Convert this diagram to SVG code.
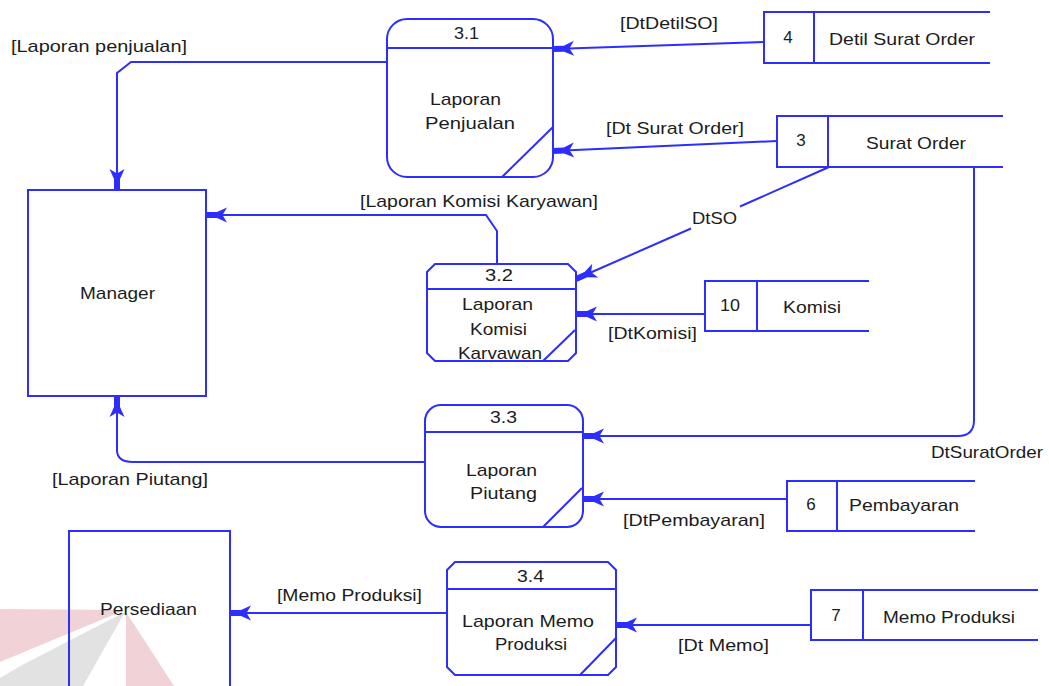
<svg xmlns="http://www.w3.org/2000/svg" width="1049" height="686" viewBox="0 0 1049 686">
  <defs>
    <style>
      .shape { fill: none; stroke: #2d2dff; stroke-width: 2; }
      .flow { fill: none; stroke: #2d2dff; stroke-width: 2; marker-end: url(#head); }
      text { font-family: "Liberation Sans", Arial, sans-serif; font-size: 17px; fill: #1c1c1c; }
      .mid { text-anchor: middle; }
    </style>
    <marker id="head" markerUnits="userSpaceOnUse" viewBox="-22 -9 23 18" refX="0" refY="0" markerWidth="23" markerHeight="18" orient="auto">
      <path d="M0,-3 L-11,-3 L-21,-7.5 L-16.5,0 L-21,7.5 L-11,3 L0,3 Z" fill="#2d2dff"/>
    </marker>
  </defs>

  <rect width="1049" height="686" fill="#ffffff"/>

  <!-- faint logo mark, lower left -->
  <g id="logo-mark">
    <polygon points="0,609 125,610 24,652 0,662" fill="#f0d2d7"/>
    <polygon points="125,612 24,664 0,678 0,686 83,686" fill="#e2e2e2"/>
    <polygon points="126,612 126,686 174,686" fill="#f0d2d7"/>
  </g>

  <!-- data flows -->
  <g id="connectors">
    <path class="flow" d="M387,62 H131 L117,73 V190"/>
    <path class="flow" d="M764,42 L553,49"/>
    <path class="flow" d="M777,141 L553,151"/>
    <path class="flow" d="M497,264 V231 L486,215 H206"/>
    <path class="shape" d="M829,167 L740,206.5"/>
    <path class="flow" d="M691,228.5 L576,279"/>
    <path class="flow" d="M705,314 H576"/>
    <path class="flow" d="M974,167 V420 Q974,436 958,436 H583"/>
    <path class="flow" d="M787,499 H583"/>
    <path class="flow" d="M425,462 H133 Q117,462 117,450 V396"/>
    <path class="flow" d="M811,625 H616"/>
    <path class="flow" d="M447,613 H230"/>
  </g>

  <!-- flow labels -->
  <g id="flow-labels">
    <text x="11" y="52" textLength="176" lengthAdjust="spacingAndGlyphs">[Laporan penjualan]</text>
    <text x="620" y="29" textLength="98" lengthAdjust="spacingAndGlyphs">[DtDetilSO]</text>
    <text x="606" y="134" textLength="138" lengthAdjust="spacingAndGlyphs">[Dt Surat Order]</text>
    <text x="360" y="207" textLength="238" lengthAdjust="spacingAndGlyphs">[Laporan Komisi Karyawan]</text>
    <text x="692" y="224" textLength="45" lengthAdjust="spacingAndGlyphs">DtSO</text>
    <text x="608" y="339" textLength="89" lengthAdjust="spacingAndGlyphs">[DtKomisi]</text>
    <text x="931" y="458" textLength="112" lengthAdjust="spacingAndGlyphs">DtSuratOrder</text>
    <text x="52" y="485" textLength="156" lengthAdjust="spacingAndGlyphs">[Laporan Piutang]</text>
    <text x="623" y="526" textLength="142" lengthAdjust="spacingAndGlyphs">[DtPembayaran]</text>
    <text x="277" y="601" textLength="145" lengthAdjust="spacingAndGlyphs">[Memo Produksi]</text>
    <text x="678" y="651" textLength="91" lengthAdjust="spacingAndGlyphs">[Dt Memo]</text>
  </g>

  <!-- external entities -->
  <g id="manager">
    <rect class="shape" x="28" y="190" width="178" height="206"/>
    <text x="80" y="299" textLength="75" lengthAdjust="spacingAndGlyphs">Manager</text>
  </g>
  <g id="persediaan">
    <rect class="shape" x="69" y="531" width="161" height="180"/>
    <text x="100" y="615" textLength="97" lengthAdjust="spacingAndGlyphs">Persediaan</text>
  </g>

  <!-- processes -->
  <g id="process-3-1">
    <rect class="shape" x="387" y="19" width="166" height="158" rx="20"/>
    <path class="shape" d="M387,48 H553 M553,127 L502,177"/>
    <text x="454" y="39" textLength="25" lengthAdjust="spacingAndGlyphs">3.1</text>
    <text x="430" y="105" textLength="71" lengthAdjust="spacingAndGlyphs">Laporan</text>
    <text x="425" y="129" textLength="90" lengthAdjust="spacingAndGlyphs">Penjualan</text>
  </g>
  <g id="process-3-2">
    <path class="shape" d="M435,264 H568 L576,272 V353 L568,361 H435 L427,353 V272 Z"/>
    <path class="shape" d="M427,289 H576 M575,330 L543,361"/>
    <text x="485" y="281" textLength="28" lengthAdjust="spacingAndGlyphs">3.2</text>
    <text x="462" y="310" textLength="71" lengthAdjust="spacingAndGlyphs">Laporan</text>
    <text x="470" y="335" textLength="57" lengthAdjust="spacingAndGlyphs">Komisi</text>
    <text x="458" y="359" textLength="84" lengthAdjust="spacingAndGlyphs">Karvawan</text>
  </g>
  <g id="process-3-3">
    <rect class="shape" x="425" y="405" width="158" height="122" rx="16"/>
    <path class="shape" d="M425,432 H583 M582,488 L543,527"/>
    <text x="490" y="423" textLength="27" lengthAdjust="spacingAndGlyphs">3.3</text>
    <text x="466" y="476" textLength="71" lengthAdjust="spacingAndGlyphs">Laporan</text>
    <text x="470" y="499" textLength="67" lengthAdjust="spacingAndGlyphs">Piutang</text>
  </g>
  <g id="process-3-4">
    <path class="shape" d="M455,562 H608 L616,570 V667 L608,675 H455 L447,667 V570 Z"/>
    <path class="shape" d="M447,589 H616 M616,638 L580,675"/>
    <text x="517" y="582" textLength="27" lengthAdjust="spacingAndGlyphs">3.4</text>
    <text x="462" y="627" textLength="132" lengthAdjust="spacingAndGlyphs">Laporan Memo</text>
    <text x="495" y="650" textLength="72" lengthAdjust="spacingAndGlyphs">Produksi</text>
  </g>

  <!-- data stores -->
  <g id="store-4">
    <path class="shape" d="M990,12 H764 V63 H990 M814,12 V63"/>
    <text class="mid" x="788" y="43">4</text>
    <text x="829" y="45" textLength="146" lengthAdjust="spacingAndGlyphs">Detil Surat Order</text>
  </g>
  <g id="store-3">
    <path class="shape" d="M1003,116 H777 V167 H1003 M828,116 V167"/>
    <text class="mid" x="801" y="146">3</text>
    <text x="866" y="149" textLength="100" lengthAdjust="spacingAndGlyphs">Surat Order</text>
  </g>
  <g id="store-10">
    <path class="shape" d="M869,281 H705 V331 H869 M757,281 V331"/>
    <text x="720" y="311" textLength="20" lengthAdjust="spacingAndGlyphs">10</text>
    <text x="783" y="313" textLength="58" lengthAdjust="spacingAndGlyphs">Komisi</text>
  </g>
  <g id="store-6">
    <path class="shape" d="M975,481 H787 V531 H975 M837,481 V531"/>
    <text class="mid" x="811" y="510">6</text>
    <text x="849" y="511" textLength="110" lengthAdjust="spacingAndGlyphs">Pembayaran</text>
  </g>
  <g id="store-7">
    <path class="shape" d="M1038,590 H811 V640 H1038 M863,590 V640"/>
    <text class="mid" x="836" y="621">7</text>
    <text x="883" y="623" textLength="132" lengthAdjust="spacingAndGlyphs">Memo Produksi</text>
  </g>
</svg>
